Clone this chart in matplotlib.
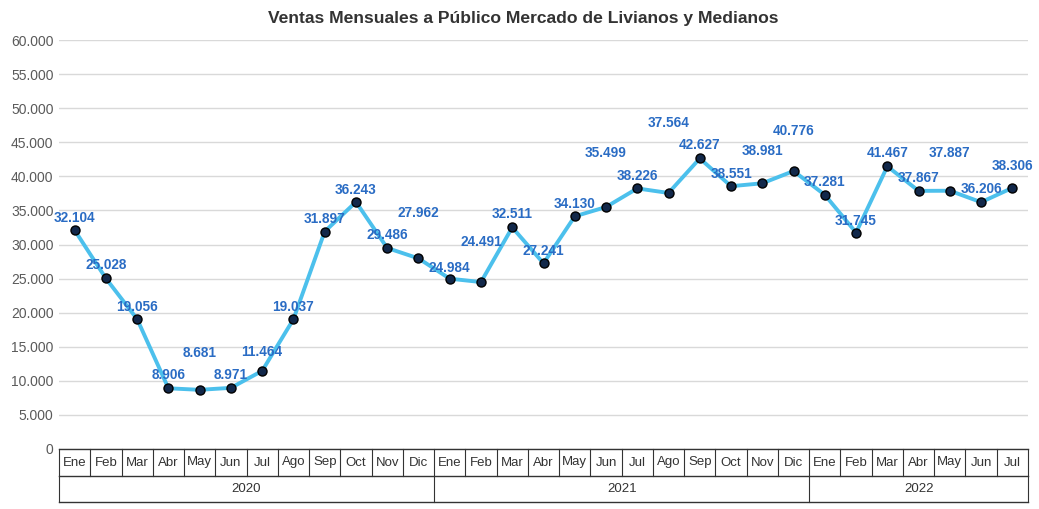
import matplotlib.pyplot as plt
import matplotlib.transforms as mtransforms
from matplotlib.ticker import FuncFormatter

plt.rcParams['font.family'] = ['Liberation Sans', 'DejaVu Sans']

# Monthly sales 2020 - Jul 2022
months = ["Ene", "Feb", "Mar", "Abr", "May", "Jun", "Jul", "Ago", "Sep", "Oct", "Nov", "Dic",
          "Ene", "Feb", "Mar", "Abr", "May", "Jun", "Jul", "Ago", "Sep", "Oct", "Nov", "Dic",
          "Ene", "Feb", "Mar", "Abr", "May", "Jun", "Jul"]
years = ["2020", "2021", "2022"]
year_lengths = [12, 12, 7]
sales = [32104, 25028, 19056, 8906, 8681, 8971, 11464, 19037, 31897, 36243, 29486, 27962,
         24984, 24491, 32511, 27241, 34130, 35499, 38226, 37564, 42627, 38551, 38981, 40776,
         37281, 31745, 41467, 37867, 37887, 36206, 38306]

# label lift above each point, in pixels
label_lift = [12, 13, 12, 13, 37, 13, 19, 12, 13, 12, 13, 45,
              11, 40, 13, 12, 12, 54, 12, 70, 13, 12, 32, 40,
              13, 12, 13, 13, 38, 13, 22]

def miles(v, pos=None):
    return f"{int(v):,}".replace(",", ".")

fig = plt.figure(figsize=(10.39, 5.09), dpi=100)
ax = fig.add_axes([59 / 1039, 1 - 449 / 509, 969 / 1039, 409 / 509])

x = list(range(len(sales)))
ax.plot(x, sales, color="#4cc0ec", linewidth=2.8, zorder=3)
ax.plot(x, sales, "o", markersize=6.5, markerfacecolor="#12284a",
        markeredgecolor="#000000", markeredgewidth=1.0, zorder=4)

for xi, v, lift in zip(x, sales, label_lift):
    ax.annotate(miles(v), (xi, v), xytext=(0, lift), textcoords="offset pixels",
                ha="center", va="center", fontsize=9.8, fontweight="bold",
                color="#2a6cc4", zorder=5)

ax.set_xlim(-0.5, len(sales) - 0.5)
ax.set_ylim(0, 60000)
ax.set_yticks(range(0, 60001, 5000))
ax.yaxis.set_major_formatter(FuncFormatter(miles))
ax.tick_params(axis="y", length=0, labelsize=10, labelcolor="#5a5a5a", pad=4)
ax.set_xticks([])
ax.grid(axis="y", color="#d9d9d9", linewidth=1.0)
ax.set_axisbelow(True)
for s in ["top", "right", "left", "bottom"]:
    ax.spines[s].set_visible(False)

# category table below the axis
trans = mtransforms.blended_transform_factory(ax.transData, ax.transAxes)
row1 = -27 / 409
row2 = -53 / 409
lc = "#333333"
left, right = -0.5, len(sales) - 0.5
for yy in [0, row1, row2]:
    ax.plot([left, right], [yy, yy], color=lc, linewidth=1.0, transform=trans, clip_on=False)
for i in range(len(sales) + 1):
    ax.plot([i - 0.5, i - 0.5], [0, row1], color=lc, linewidth=0.8, transform=trans, clip_on=False)
for i, m in enumerate(months):
    ax.text(i, row1 / 2, m, transform=trans, ha="center", va="center",
            fontsize=9.5, color="#333333")
start = 0
for yr, n in zip(years, year_lengths):
    ax.plot([start - 0.5, start - 0.5], [row1, row2], color=lc, linewidth=0.8,
            transform=trans, clip_on=False)
    ax.text(start + n / 2 - 0.5, (row1 + row2) / 2, yr, transform=trans,
            ha="center", va="center", fontsize=9.5, color="#333333")
    start += n
ax.plot([right, right], [row1, row2], color=lc, linewidth=0.8, transform=trans, clip_on=False)

fig.text(523 / 1039, 1 - 18 / 509, "Ventas Mensuales a Público Mercado de Livianos y Medianos",
         ha="center", va="center", fontsize=12.6, fontweight="bold", color="#333333")

fig.savefig("out.png", dpi=100)
